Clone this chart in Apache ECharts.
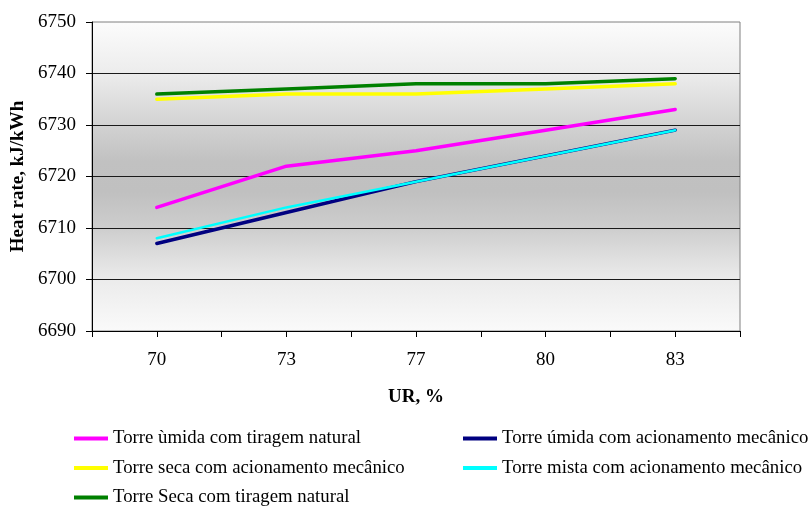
<!DOCTYPE html>
<html>
<head>
<meta charset="utf-8">
<script src="https://cdn.jsdelivr.net/npm/echarts@6/dist/echarts.min.js"></script>
<style>
html,body{margin:0;padding:0;background:#fff;}
#chart{width:810px;height:507px;}
</style>
</head>
<body>
<div id="chart"></div>
<script>
// Data
var categories = ['70', '73', '77', '80', '83'];
var minorTickSlots = ['', '', '', '', '', '', '', '', '', ''];
var seriesNames = [
  'Torre ùmida com tiragem natural',
  'Torre úmida com acionamento mecânico',
  'Torre seca com acionamento mecânico',
  'Torre mista com acionamento mecânico',
  'Torre Seca com tiragem natural'
];
var umidaNatural = [6714, 6722, 6725, 6729, 6733];
var umidaMecanico = [6707, 6713, 6719, 6724, 6729];
var secaMecanico = [6735, 6736, 6736, 6737, 6738];
var mistaMecanico = [6708, 6714, 6719, 6724, 6729];
var secaNatural = [6736, 6737, 6738, 6738, 6739];
var yMin = 6690, yMax = 6750, yStep = 10;

var FONT = "'Liberation Serif', 'Times New Roman', serif";
var colors = ['#ff00ff', '#000080', '#ffff00', '#00ffff', '#008000'];
var widths = [3.5, 3.5, 3.5, 2.5, 3.5];
var seriesData = [umidaNatural, umidaMecanico, secaMecanico, mistaMecanico, secaNatural];

var chart = echarts.init(document.getElementById('chart'), null, {renderer: 'canvas'});

var series = seriesNames.map(function (n, i) {
  return {
    name: n,
    type: 'line',
    data: seriesData[i],
    symbol: 'none',
    showSymbol: false,
    xAxisIndex: 0,
    yAxisIndex: 0,
    color: colors[i],
    lineStyle: {color: colors[i], width: widths[i], cap: 'round', join: 'round'},
    z: 3 + (i === 3 ? 1 : 0),
    animation: false
  };
});

var legendCommon = {
  orient: 'vertical',
  top: 429,
  icon: 'rect',
  itemWidth: 34,
  itemHeight: 4,
  itemGap: 10.5,
  selectedMode: false,
  textStyle: {fontFamily: FONT, fontSize: 18.8, color: '#000', lineHeight: 19, padding: [0, 0, 0, 0]},
  padding: 0
};

var option = {
  backgroundColor: '#fff',
  animation: false,
  grid: {
    left: 92, right: 70, top: 22, bottom: 176,
    outerBoundsMode: 'none',
    containLabel: false,
    show: true,
    borderColor: '#808080',
    borderWidth: 1,
    backgroundColor: {
      type: 'linear', x: 0, y: 0, x2: 0, y2: 1,
      colorStops: [
        {offset: 0, color: '#fcfcfc'},
        {offset: 0.17, color: '#ececec'},
        {offset: 0.33, color: '#d3d3d3'},
        {offset: 0.45, color: '#c1c1c1'},
        {offset: 0.55, color: '#c0c0c0'},
        {offset: 0.67, color: '#cecece'},
        {offset: 0.83, color: '#ebebeb'},
        {offset: 1, color: '#fafafa'}
      ]
    }
  },
  legend: [
    Object.assign({}, legendCommon, {left: 74, data: [seriesNames[0], seriesNames[2], seriesNames[4]]}),
    Object.assign({}, legendCommon, {left: 463, data: [seriesNames[1], seriesNames[3]]})
  ],
  xAxis: [
    {
      type: 'category',
      data: categories,
      boundaryGap: true,
      position: 'bottom',
      name: 'UR, %',
      nameLocation: 'middle',
      nameGap: 57,
      nameTextStyle: {fontFamily: FONT, fontSize: 19, fontWeight: 'bold', color: '#000'},
      axisLine: {show: true, lineStyle: {color: '#000', width: 1}},
      axisTick: {show: true, length: 6, lineStyle: {color: '#000'}},
      axisLabel: {fontFamily: FONT, fontSize: 19, color: '#000', margin: 20},
      splitLine: {show: false}
    },
    {
      type: 'category',
      data: minorTickSlots,
      boundaryGap: true,
      position: 'bottom',
      axisLine: {show: false},
      axisTick: {show: true, length: 6, lineStyle: {color: '#000'}},
      axisLabel: {show: false},
      splitLine: {show: false}
    }
  ],
  yAxis: {
    type: 'value',
    min: yMin,
    max: yMax,
    interval: yStep,
    name: 'Heat rate, kJ/kWh',
    nameLocation: 'middle',
    nameGap: 62,
    nameTextStyle: {fontFamily: FONT, fontSize: 19, fontWeight: 'bold', color: '#000'},
    axisLine: {show: true, lineStyle: {color: '#000', width: 1}},
    axisTick: {show: true, length: 6, lineStyle: {color: '#000'}},
    axisLabel: {fontFamily: FONT, fontSize: 19, color: '#000', margin: 16,
      formatter: function (v) { return String(v); }},
    splitLine: {show: true, showMaxLine: false, showMinLine: false, lineStyle: {color: '#1a1a1a', width: 1}}
  },
  series: series
};

chart.setOption(option);
</script>
</body>
</html>
